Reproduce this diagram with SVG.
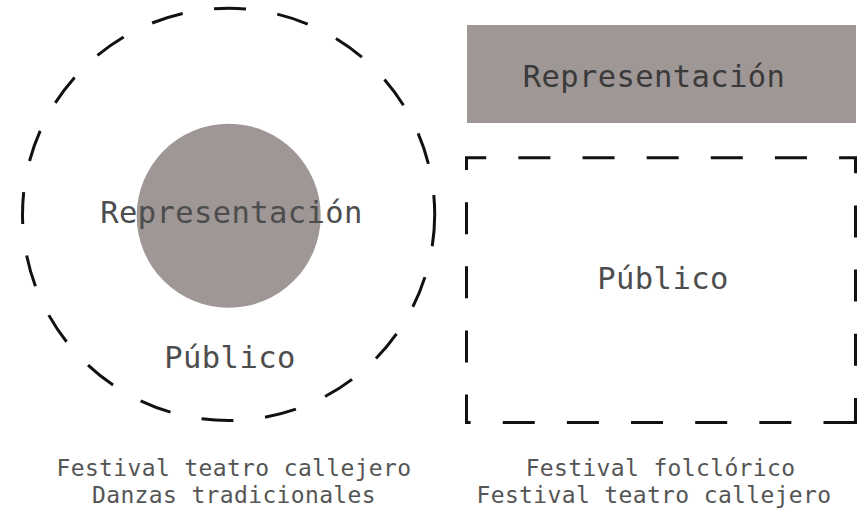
<svg xmlns="http://www.w3.org/2000/svg" width="867" height="512" viewBox="0 0 867 512">
  <style>
    .bg { fill: #ffffff; }
    .fill { fill: #9f9696; stroke: none; }
    .dash { fill: none; stroke: #111111; stroke-width: 3; stroke-linecap: butt; }
    .big { font-family: "DejaVu Sans Mono", "Liberation Mono", monospace; font-size: 30.5px; letter-spacing: 0.4px; fill: #4d4d4d; text-anchor: middle; }
    .small { font-family: "DejaVu Sans Mono", "Liberation Mono", monospace; font-size: 23px; letter-spacing: 0.35px; fill: #555555; text-anchor: middle; }
    .on-gray { fill: #3a3a3a; }
  </style>
  <rect class="bg" x="0" y="0" width="867" height="512"/>

  <g id="publico-circulo">
    <circle class="dash" cx="228.6" cy="214.4" r="206.1" stroke-dasharray="32 31.75"/>
    <text class="big" x="230" y="368">Público</text>
  </g>

  <g id="representacion-circulo">
    <circle class="fill" cx="228.7" cy="215.8" r="92"/>
    <text class="big" x="231.5" y="222.7">Representación</text>
  </g>

  <g id="representacion-rect">
    <rect class="fill" x="467" y="25" width="389" height="98"/>
    <text class="big on-gray" x="654" y="87.3">Representación</text>
  </g>

  <g id="publico-rect">
    <path class="dash" d="M855.5,422.5 H466.5 V157.7 H855.5 Z" stroke-dasharray="32 32.15"/>
    <text class="big" x="663" y="289.3">Público</text>
  </g>

  <g id="caption-izquierda">
    <text class="small" x="234" y="476">Festival teatro callejero</text>
    <text class="small" x="234" y="503.3">Danzas tradicionales</text>
  </g>

  <g id="caption-derecha">
    <text class="small" x="660.5" y="475.5">Festival folclórico</text>
    <text class="small" x="654" y="503.3">Festival teatro callejero</text>
  </g>

  <g id="connectors"/>
</svg>
